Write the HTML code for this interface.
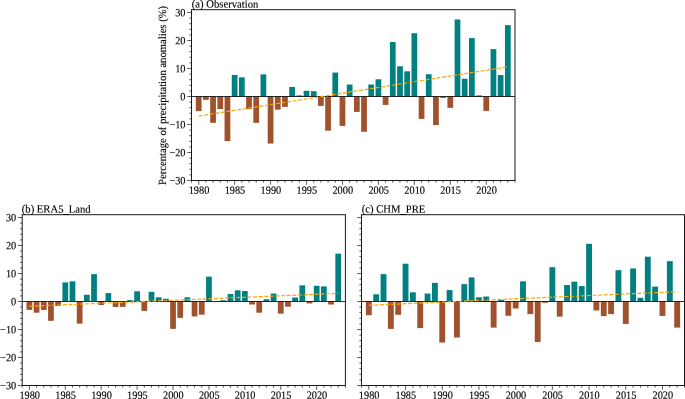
<!DOCTYPE html>
<html><head><meta charset="utf-8"><title>Precipitation anomalies</title>
<style>
html,body{margin:0;padding:0;background:#fff;}
svg{display:block;}
text{font-family:"Liberation Serif",serif;font-size:10.65px;fill:#000;stroke:#000;stroke-width:0.12px;text-rendering:geometricPrecision;}
text.t{font-size:10.3px;}
</style></head><body>
<svg width="685" height="399" viewBox="0 0 685 399">
<rect width="685" height="399" fill="#fff"/>
<rect x="195.81" y="96.50" width="5.75" height="14.56" fill="#a0522d"/>
<rect x="203.00" y="96.50" width="5.75" height="3.36" fill="#a0522d"/>
<rect x="210.19" y="96.50" width="5.75" height="26.32" fill="#a0522d"/>
<rect x="217.38" y="96.50" width="5.75" height="12.60" fill="#a0522d"/>
<rect x="224.57" y="96.50" width="5.75" height="44.66" fill="#a0522d"/>
<rect x="231.76" y="74.94" width="5.75" height="21.56" fill="#008080"/>
<rect x="238.95" y="77.32" width="5.75" height="19.18" fill="#008080"/>
<rect x="246.14" y="96.50" width="5.75" height="12.60" fill="#a0522d"/>
<rect x="253.32" y="96.50" width="5.75" height="26.32" fill="#a0522d"/>
<rect x="260.51" y="74.38" width="5.75" height="22.12" fill="#008080"/>
<rect x="267.70" y="96.50" width="5.75" height="47.04" fill="#a0522d"/>
<rect x="274.89" y="96.50" width="5.75" height="13.16" fill="#a0522d"/>
<rect x="282.08" y="96.50" width="5.75" height="10.36" fill="#a0522d"/>
<rect x="289.27" y="86.98" width="5.75" height="9.52" fill="#008080"/>
<rect x="296.46" y="95.38" width="5.75" height="1.12" fill="#008080"/>
<rect x="303.65" y="90.76" width="5.75" height="5.74" fill="#008080"/>
<rect x="310.84" y="91.18" width="5.75" height="5.32" fill="#008080"/>
<rect x="318.02" y="96.50" width="5.75" height="9.38" fill="#a0522d"/>
<rect x="325.21" y="96.50" width="5.75" height="34.16" fill="#a0522d"/>
<rect x="332.40" y="72.56" width="5.75" height="23.94" fill="#008080"/>
<rect x="339.59" y="96.50" width="5.75" height="29.40" fill="#a0522d"/>
<rect x="346.78" y="84.54" width="5.75" height="11.96" fill="#008080"/>
<rect x="353.97" y="96.50" width="5.75" height="15.40" fill="#a0522d"/>
<rect x="361.16" y="96.50" width="5.75" height="35.28" fill="#a0522d"/>
<rect x="368.35" y="84.54" width="5.75" height="11.96" fill="#008080"/>
<rect x="375.54" y="79.28" width="5.75" height="17.22" fill="#008080"/>
<rect x="382.72" y="96.50" width="5.75" height="8.40" fill="#a0522d"/>
<rect x="389.91" y="42.04" width="5.75" height="54.46" fill="#008080"/>
<rect x="397.10" y="66.26" width="5.75" height="30.24" fill="#008080"/>
<rect x="404.29" y="71.30" width="5.75" height="25.20" fill="#008080"/>
<rect x="411.48" y="33.22" width="5.75" height="63.28" fill="#008080"/>
<rect x="418.67" y="96.50" width="5.75" height="22.40" fill="#a0522d"/>
<rect x="425.86" y="74.24" width="5.75" height="22.26" fill="#008080"/>
<rect x="433.05" y="96.50" width="5.75" height="28.56" fill="#a0522d"/>
<rect x="440.24" y="96.50" width="5.75" height="1.40" fill="#a0522d"/>
<rect x="447.42" y="96.50" width="5.75" height="11.34" fill="#a0522d"/>
<rect x="454.61" y="19.50" width="5.75" height="77.00" fill="#008080"/>
<rect x="461.80" y="78.72" width="5.75" height="17.78" fill="#008080"/>
<rect x="468.99" y="38.12" width="5.75" height="58.38" fill="#008080"/>
<rect x="476.18" y="95.38" width="5.75" height="1.12" fill="#008080"/>
<rect x="483.37" y="96.50" width="5.75" height="14.42" fill="#a0522d"/>
<rect x="490.56" y="49.18" width="5.75" height="47.32" fill="#008080"/>
<rect x="497.75" y="75.08" width="5.75" height="21.42" fill="#008080"/>
<rect x="504.94" y="25.10" width="5.75" height="71.40" fill="#008080"/>
<line x1="191.50" x2="515.00" y1="96.50" y2="96.50" stroke="#000" stroke-width="0.82"/>
<line x1="198.69" y1="116.10" x2="507.81" y2="66.82" stroke="#ffa500" stroke-width="1.2" stroke-dasharray="3.9 1.7"/>
<rect x="191.50" y="9.70" width="323.50" height="170.80" fill="none" stroke="#1a1a1a" stroke-width="1"/>
<path d="M191.50 180.50v2.2 M198.69 180.50v4.3 M205.88 180.50v2.2 M213.07 180.50v2.2 M220.26 180.50v2.2 M227.44 180.50v2.2 M234.63 180.50v4.3 M241.82 180.50v2.2 M249.01 180.50v2.2 M256.20 180.50v2.2 M263.39 180.50v2.2 M270.58 180.50v4.3 M277.77 180.50v2.2 M284.96 180.50v2.2 M292.14 180.50v2.2 M299.33 180.50v2.2 M306.52 180.50v4.3 M313.71 180.50v2.2 M320.90 180.50v2.2 M328.09 180.50v2.2 M335.28 180.50v2.2 M342.47 180.50v4.3 M349.66 180.50v2.2 M356.84 180.50v2.2 M364.03 180.50v2.2 M371.22 180.50v2.2 M378.41 180.50v4.3 M385.60 180.50v2.2 M392.79 180.50v2.2 M399.98 180.50v2.2 M407.17 180.50v2.2 M414.36 180.50v4.3 M421.54 180.50v2.2 M428.73 180.50v2.2 M435.92 180.50v2.2 M443.11 180.50v2.2 M450.30 180.50v4.3 M457.49 180.50v2.2 M464.68 180.50v2.2 M471.87 180.50v2.2 M479.06 180.50v2.2 M486.24 180.50v4.3 M493.43 180.50v2.2 M500.62 180.50v2.2 M507.81 180.50v2.2 M515.00 180.50v2.2 M191.50 180.50h-4.3 M191.50 174.90h-2.2 M191.50 169.30h-2.2 M191.50 163.70h-2.2 M191.50 158.10h-2.2 M191.50 152.50h-4.3 M191.50 146.90h-2.2 M191.50 141.30h-2.2 M191.50 135.70h-2.2 M191.50 130.10h-2.2 M191.50 124.50h-4.3 M191.50 118.90h-2.2 M191.50 113.30h-2.2 M191.50 107.70h-2.2 M191.50 102.10h-2.2 M191.50 96.50h-4.3 M191.50 90.90h-2.2 M191.50 85.30h-2.2 M191.50 79.70h-2.2 M191.50 74.10h-2.2 M191.50 68.50h-4.3 M191.50 62.90h-2.2 M191.50 57.30h-2.2 M191.50 51.70h-2.2 M191.50 46.10h-2.2 M191.50 40.50h-4.3 M191.50 34.90h-2.2 M191.50 29.30h-2.2 M191.50 23.70h-2.2 M191.50 18.10h-2.2 M191.50 12.50h-4.3" stroke="#1a1a1a" stroke-width="0.7" fill="none"/>
<text transform="translate(198.99 193.80) rotate(0.04) scale(1 1.075)" text-anchor="middle" class="t">1980</text>
<text transform="translate(234.93 193.80) rotate(0.04) scale(1 1.075)" text-anchor="middle" class="t">1985</text>
<text transform="translate(270.88 193.80) rotate(0.04) scale(1 1.075)" text-anchor="middle" class="t">1990</text>
<text transform="translate(306.82 193.80) rotate(0.04) scale(1 1.075)" text-anchor="middle" class="t">1995</text>
<text transform="translate(342.77 193.80) rotate(0.04) scale(1 1.075)" text-anchor="middle" class="t">2000</text>
<text transform="translate(378.71 193.80) rotate(0.04) scale(1 1.075)" text-anchor="middle" class="t">2005</text>
<text transform="translate(414.66 193.80) rotate(0.04) scale(1 1.075)" text-anchor="middle" class="t">2010</text>
<text transform="translate(450.60 193.80) rotate(0.04) scale(1 1.075)" text-anchor="middle" class="t">2015</text>
<text transform="translate(486.54 193.80) rotate(0.04) scale(1 1.075)" text-anchor="middle" class="t">2020</text>
<text transform="translate(185.50 184.20) rotate(0.04) scale(1 1.075)" text-anchor="end" class="t">−30</text>
<text transform="translate(185.50 156.20) rotate(0.04) scale(1 1.075)" text-anchor="end" class="t">−20</text>
<text transform="translate(185.50 128.20) rotate(0.04) scale(1 1.075)" text-anchor="end" class="t">−10</text>
<text transform="translate(185.50 100.20) rotate(0.04) scale(1 1.075)" text-anchor="end" class="t">0</text>
<text transform="translate(185.50 72.20) rotate(0.04) scale(1 1.075)" text-anchor="end" class="t">10</text>
<text transform="translate(185.50 44.20) rotate(0.04) scale(1 1.075)" text-anchor="end" class="t">20</text>
<text transform="translate(185.50 16.20) rotate(0.04) scale(1 1.075)" text-anchor="end" class="t">30</text>
<text transform="translate(191.80 7.60) rotate(0.04) scale(1 1.04)">(a) Observation</text>
<text transform="translate(165.50 95.40) rotate(-90) scale(1 1.04)" text-anchor="middle">Percentage of precipitation anomalies (%)</text>
<rect x="26.51" y="301.50" width="5.75" height="8.40" fill="#a0522d"/>
<rect x="33.69" y="301.50" width="5.75" height="11.20" fill="#a0522d"/>
<rect x="40.87" y="301.50" width="5.75" height="8.40" fill="#a0522d"/>
<rect x="48.06" y="301.50" width="5.75" height="19.32" fill="#a0522d"/>
<rect x="55.24" y="301.50" width="5.75" height="4.48" fill="#a0522d"/>
<rect x="62.42" y="282.38" width="5.75" height="19.12" fill="#008080"/>
<rect x="69.60" y="281.34" width="5.75" height="20.16" fill="#008080"/>
<rect x="76.78" y="301.50" width="5.75" height="22.12" fill="#a0522d"/>
<rect x="83.97" y="294.78" width="5.75" height="6.72" fill="#008080"/>
<rect x="91.15" y="274.14" width="5.75" height="27.36" fill="#008080"/>
<rect x="98.33" y="301.50" width="5.75" height="3.47" fill="#a0522d"/>
<rect x="105.51" y="293.10" width="5.75" height="8.40" fill="#008080"/>
<rect x="112.70" y="301.50" width="5.75" height="5.46" fill="#a0522d"/>
<rect x="119.88" y="301.50" width="5.75" height="5.32" fill="#a0522d"/>
<rect x="127.06" y="300.10" width="5.75" height="1.40" fill="#008080"/>
<rect x="134.24" y="291.31" width="5.75" height="10.19" fill="#008080"/>
<rect x="141.42" y="301.50" width="5.75" height="9.44" fill="#a0522d"/>
<rect x="148.61" y="291.81" width="5.75" height="9.69" fill="#008080"/>
<rect x="155.79" y="297.30" width="5.75" height="4.20" fill="#008080"/>
<rect x="162.97" y="298.76" width="5.75" height="2.74" fill="#008080"/>
<rect x="170.15" y="301.50" width="5.75" height="27.36" fill="#a0522d"/>
<rect x="177.34" y="301.50" width="5.75" height="16.41" fill="#a0522d"/>
<rect x="184.52" y="297.30" width="5.75" height="4.20" fill="#008080"/>
<rect x="191.70" y="301.50" width="5.75" height="14.92" fill="#a0522d"/>
<rect x="198.88" y="301.50" width="5.75" height="13.16" fill="#a0522d"/>
<rect x="206.06" y="276.64" width="5.75" height="24.86" fill="#008080"/>
<rect x="213.25" y="301.22" width="5.75" height="0.28" fill="#008080"/>
<rect x="220.43" y="300.24" width="5.75" height="1.26" fill="#008080"/>
<rect x="227.61" y="294.05" width="5.75" height="7.45" fill="#008080"/>
<rect x="234.79" y="290.30" width="5.75" height="11.20" fill="#008080"/>
<rect x="241.98" y="291.06" width="5.75" height="10.44" fill="#008080"/>
<rect x="249.16" y="301.50" width="5.75" height="3.00" fill="#a0522d"/>
<rect x="256.34" y="301.50" width="5.75" height="11.20" fill="#a0522d"/>
<rect x="263.52" y="299.26" width="5.75" height="2.24" fill="#008080"/>
<rect x="270.70" y="293.55" width="5.75" height="7.95" fill="#008080"/>
<rect x="277.89" y="301.50" width="5.75" height="12.18" fill="#a0522d"/>
<rect x="285.07" y="301.50" width="5.75" height="5.21" fill="#a0522d"/>
<rect x="292.25" y="297.52" width="5.75" height="3.98" fill="#008080"/>
<rect x="299.43" y="285.34" width="5.75" height="16.16" fill="#008080"/>
<rect x="306.62" y="301.50" width="5.75" height="1.96" fill="#a0522d"/>
<rect x="313.80" y="285.82" width="5.75" height="15.68" fill="#008080"/>
<rect x="320.98" y="286.38" width="5.75" height="15.12" fill="#008080"/>
<rect x="328.16" y="301.50" width="5.75" height="3.00" fill="#a0522d"/>
<rect x="335.34" y="253.62" width="5.75" height="47.88" fill="#008080"/>
<line x1="22.20" x2="345.40" y1="301.50" y2="301.50" stroke="#000" stroke-width="0.82"/>
<line x1="29.38" y1="306.26" x2="338.22" y2="293.38" stroke="#ffa500" stroke-width="1.2" stroke-dasharray="3.9 1.7"/>
<rect x="22.20" y="214.70" width="323.20" height="170.80" fill="none" stroke="#1a1a1a" stroke-width="1"/>
<path d="M22.20 385.50v2.2 M29.38 385.50v4.3 M36.56 385.50v2.2 M43.75 385.50v2.2 M50.93 385.50v2.2 M58.11 385.50v2.2 M65.29 385.50v4.3 M72.48 385.50v2.2 M79.66 385.50v2.2 M86.84 385.50v2.2 M94.02 385.50v2.2 M101.20 385.50v4.3 M108.39 385.50v2.2 M115.57 385.50v2.2 M122.75 385.50v2.2 M129.93 385.50v2.2 M137.12 385.50v4.3 M144.30 385.50v2.2 M151.48 385.50v2.2 M158.66 385.50v2.2 M165.84 385.50v2.2 M173.03 385.50v4.3 M180.21 385.50v2.2 M187.39 385.50v2.2 M194.57 385.50v2.2 M201.76 385.50v2.2 M208.94 385.50v4.3 M216.12 385.50v2.2 M223.30 385.50v2.2 M230.48 385.50v2.2 M237.67 385.50v2.2 M244.85 385.50v4.3 M252.03 385.50v2.2 M259.21 385.50v2.2 M266.40 385.50v2.2 M273.58 385.50v2.2 M280.76 385.50v4.3 M287.94 385.50v2.2 M295.12 385.50v2.2 M302.31 385.50v2.2 M309.49 385.50v2.2 M316.67 385.50v4.3 M323.85 385.50v2.2 M331.04 385.50v2.2 M338.22 385.50v2.2 M345.40 385.50v2.2 M22.20 385.50h-4.3 M22.20 379.90h-2.2 M22.20 374.30h-2.2 M22.20 368.70h-2.2 M22.20 363.10h-2.2 M22.20 357.50h-4.3 M22.20 351.90h-2.2 M22.20 346.30h-2.2 M22.20 340.70h-2.2 M22.20 335.10h-2.2 M22.20 329.50h-4.3 M22.20 323.90h-2.2 M22.20 318.30h-2.2 M22.20 312.70h-2.2 M22.20 307.10h-2.2 M22.20 301.50h-4.3 M22.20 295.90h-2.2 M22.20 290.30h-2.2 M22.20 284.70h-2.2 M22.20 279.10h-2.2 M22.20 273.50h-4.3 M22.20 267.90h-2.2 M22.20 262.30h-2.2 M22.20 256.70h-2.2 M22.20 251.10h-2.2 M22.20 245.50h-4.3 M22.20 239.90h-2.2 M22.20 234.30h-2.2 M22.20 228.70h-2.2 M22.20 223.10h-2.2 M22.20 217.50h-4.3" stroke="#1a1a1a" stroke-width="0.7" fill="none"/>
<text transform="translate(29.68 398.80) rotate(0.04) scale(1 1.075)" text-anchor="middle" class="t">1980</text>
<text transform="translate(65.59 398.80) rotate(0.04) scale(1 1.075)" text-anchor="middle" class="t">1985</text>
<text transform="translate(101.50 398.80) rotate(0.04) scale(1 1.075)" text-anchor="middle" class="t">1990</text>
<text transform="translate(137.42 398.80) rotate(0.04) scale(1 1.075)" text-anchor="middle" class="t">1995</text>
<text transform="translate(173.33 398.80) rotate(0.04) scale(1 1.075)" text-anchor="middle" class="t">2000</text>
<text transform="translate(209.24 398.80) rotate(0.04) scale(1 1.075)" text-anchor="middle" class="t">2005</text>
<text transform="translate(245.15 398.80) rotate(0.04) scale(1 1.075)" text-anchor="middle" class="t">2010</text>
<text transform="translate(281.06 398.80) rotate(0.04) scale(1 1.075)" text-anchor="middle" class="t">2015</text>
<text transform="translate(316.97 398.80) rotate(0.04) scale(1 1.075)" text-anchor="middle" class="t">2020</text>
<text transform="translate(16.20 389.20) rotate(0.04) scale(1 1.075)" text-anchor="end" class="t">−30</text>
<text transform="translate(16.20 361.20) rotate(0.04) scale(1 1.075)" text-anchor="end" class="t">−20</text>
<text transform="translate(16.20 333.20) rotate(0.04) scale(1 1.075)" text-anchor="end" class="t">−10</text>
<text transform="translate(16.20 305.20) rotate(0.04) scale(1 1.075)" text-anchor="end" class="t">0</text>
<text transform="translate(16.20 277.20) rotate(0.04) scale(1 1.075)" text-anchor="end" class="t">10</text>
<text transform="translate(16.20 249.20) rotate(0.04) scale(1 1.075)" text-anchor="end" class="t">20</text>
<text transform="translate(16.20 221.20) rotate(0.04) scale(1 1.075)" text-anchor="end" class="t">30</text>
<text transform="translate(21.80 212.60) rotate(0.04) scale(1 1.04)">(b) ERA5<tspan dy="0.9">_</tspan><tspan dy="-0.9">Land</tspan></text>
<rect x="365.90" y="301.50" width="5.87" height="13.72" fill="#a0522d"/>
<rect x="373.25" y="294.30" width="5.87" height="7.20" fill="#008080"/>
<rect x="380.59" y="274.14" width="5.87" height="27.36" fill="#008080"/>
<rect x="387.93" y="301.50" width="5.87" height="27.36" fill="#a0522d"/>
<rect x="395.27" y="301.50" width="5.87" height="13.30" fill="#a0522d"/>
<rect x="402.61" y="263.70" width="5.87" height="37.80" fill="#008080"/>
<rect x="409.95" y="292.32" width="5.87" height="9.18" fill="#008080"/>
<rect x="417.29" y="301.50" width="5.87" height="26.60" fill="#a0522d"/>
<rect x="424.63" y="293.55" width="5.87" height="7.95" fill="#008080"/>
<rect x="431.97" y="282.85" width="5.87" height="18.65" fill="#008080"/>
<rect x="439.31" y="301.50" width="5.87" height="41.02" fill="#a0522d"/>
<rect x="446.65" y="290.08" width="5.87" height="11.42" fill="#008080"/>
<rect x="454.00" y="301.50" width="5.87" height="36.04" fill="#a0522d"/>
<rect x="461.34" y="284.14" width="5.87" height="17.36" fill="#008080"/>
<rect x="468.68" y="277.42" width="5.87" height="24.08" fill="#008080"/>
<rect x="476.02" y="297.30" width="5.87" height="4.20" fill="#008080"/>
<rect x="483.36" y="296.52" width="5.87" height="4.98" fill="#008080"/>
<rect x="490.70" y="301.50" width="5.87" height="26.10" fill="#a0522d"/>
<rect x="498.04" y="299.82" width="5.87" height="1.68" fill="#008080"/>
<rect x="505.38" y="301.50" width="5.87" height="14.28" fill="#a0522d"/>
<rect x="512.72" y="301.50" width="5.87" height="7.00" fill="#a0522d"/>
<rect x="520.06" y="281.34" width="5.87" height="20.16" fill="#008080"/>
<rect x="527.40" y="301.50" width="5.87" height="12.60" fill="#a0522d"/>
<rect x="534.75" y="301.50" width="5.87" height="40.52" fill="#a0522d"/>
<rect x="542.09" y="301.50" width="5.87" height="1.26" fill="#a0522d"/>
<rect x="549.43" y="267.20" width="5.87" height="34.30" fill="#008080"/>
<rect x="556.77" y="301.50" width="5.87" height="15.12" fill="#a0522d"/>
<rect x="564.11" y="285.06" width="5.87" height="16.44" fill="#008080"/>
<rect x="571.45" y="281.62" width="5.87" height="19.88" fill="#008080"/>
<rect x="578.79" y="286.10" width="5.87" height="15.40" fill="#008080"/>
<rect x="586.13" y="243.82" width="5.87" height="57.68" fill="#008080"/>
<rect x="593.47" y="301.50" width="5.87" height="8.96" fill="#a0522d"/>
<rect x="600.81" y="301.50" width="5.87" height="14.67" fill="#a0522d"/>
<rect x="608.15" y="301.50" width="5.87" height="12.60" fill="#a0522d"/>
<rect x="615.50" y="270.14" width="5.87" height="31.36" fill="#008080"/>
<rect x="622.84" y="301.50" width="5.87" height="22.40" fill="#a0522d"/>
<rect x="630.18" y="268.46" width="5.87" height="33.04" fill="#008080"/>
<rect x="637.52" y="297.78" width="5.87" height="3.72" fill="#008080"/>
<rect x="644.86" y="256.70" width="5.87" height="44.80" fill="#008080"/>
<rect x="652.20" y="286.58" width="5.87" height="14.92" fill="#008080"/>
<rect x="659.54" y="301.50" width="5.87" height="14.42" fill="#a0522d"/>
<rect x="666.88" y="261.18" width="5.87" height="40.32" fill="#008080"/>
<rect x="674.22" y="301.50" width="5.87" height="26.10" fill="#a0522d"/>
<line x1="361.50" x2="684.50" y1="301.50" y2="301.50" stroke="#000" stroke-width="0.82"/>
<line x1="368.84" y1="305.28" x2="677.16" y2="291.70" stroke="#ffa500" stroke-width="1.2" stroke-dasharray="3.9 1.7"/>
<rect x="361.50" y="214.70" width="323.00" height="170.80" fill="none" stroke="#1a1a1a" stroke-width="1"/>
<path d="M361.50 385.50v2.2 M368.84 385.50v4.3 M376.18 385.50v2.2 M383.52 385.50v2.2 M390.86 385.50v2.2 M398.20 385.50v2.2 M405.55 385.50v4.3 M412.89 385.50v2.2 M420.23 385.50v2.2 M427.57 385.50v2.2 M434.91 385.50v2.2 M442.25 385.50v4.3 M449.59 385.50v2.2 M456.93 385.50v2.2 M464.27 385.50v2.2 M471.61 385.50v2.2 M478.95 385.50v4.3 M486.30 385.50v2.2 M493.64 385.50v2.2 M500.98 385.50v2.2 M508.32 385.50v2.2 M515.66 385.50v4.3 M523.00 385.50v2.2 M530.34 385.50v2.2 M537.68 385.50v2.2 M545.02 385.50v2.2 M552.36 385.50v4.3 M559.70 385.50v2.2 M567.05 385.50v2.2 M574.39 385.50v2.2 M581.73 385.50v2.2 M589.07 385.50v4.3 M596.41 385.50v2.2 M603.75 385.50v2.2 M611.09 385.50v2.2 M618.43 385.50v2.2 M625.77 385.50v4.3 M633.11 385.50v2.2 M640.45 385.50v2.2 M647.80 385.50v2.2 M655.14 385.50v2.2 M662.48 385.50v4.3 M669.82 385.50v2.2 M677.16 385.50v2.2 M684.50 385.50v2.2 M361.50 385.50h-4.3 M361.50 379.90h-2.2 M361.50 374.30h-2.2 M361.50 368.70h-2.2 M361.50 363.10h-2.2 M361.50 357.50h-4.3 M361.50 351.90h-2.2 M361.50 346.30h-2.2 M361.50 340.70h-2.2 M361.50 335.10h-2.2 M361.50 329.50h-4.3 M361.50 323.90h-2.2 M361.50 318.30h-2.2 M361.50 312.70h-2.2 M361.50 307.10h-2.2 M361.50 301.50h-4.3 M361.50 295.90h-2.2 M361.50 290.30h-2.2 M361.50 284.70h-2.2 M361.50 279.10h-2.2 M361.50 273.50h-4.3 M361.50 267.90h-2.2 M361.50 262.30h-2.2 M361.50 256.70h-2.2 M361.50 251.10h-2.2 M361.50 245.50h-4.3 M361.50 239.90h-2.2 M361.50 234.30h-2.2 M361.50 228.70h-2.2 M361.50 223.10h-2.2 M361.50 217.50h-4.3" stroke="#1a1a1a" stroke-width="0.7" fill="none"/>
<text transform="translate(369.14 398.80) rotate(0.04) scale(1 1.075)" text-anchor="middle" class="t">1980</text>
<text transform="translate(405.85 398.80) rotate(0.04) scale(1 1.075)" text-anchor="middle" class="t">1985</text>
<text transform="translate(442.55 398.80) rotate(0.04) scale(1 1.075)" text-anchor="middle" class="t">1990</text>
<text transform="translate(479.25 398.80) rotate(0.04) scale(1 1.075)" text-anchor="middle" class="t">1995</text>
<text transform="translate(515.96 398.80) rotate(0.04) scale(1 1.075)" text-anchor="middle" class="t">2000</text>
<text transform="translate(552.66 398.80) rotate(0.04) scale(1 1.075)" text-anchor="middle" class="t">2005</text>
<text transform="translate(589.37 398.80) rotate(0.04) scale(1 1.075)" text-anchor="middle" class="t">2010</text>
<text transform="translate(626.07 398.80) rotate(0.04) scale(1 1.075)" text-anchor="middle" class="t">2015</text>
<text transform="translate(662.78 398.80) rotate(0.04) scale(1 1.075)" text-anchor="middle" class="t">2020</text>
<text transform="translate(361.80 212.60) rotate(0.04) scale(1 1.04)">(c) CHM<tspan dy="0.9">_</tspan><tspan dy="-0.9">PRE</tspan></text>
</svg>
</body></html>
